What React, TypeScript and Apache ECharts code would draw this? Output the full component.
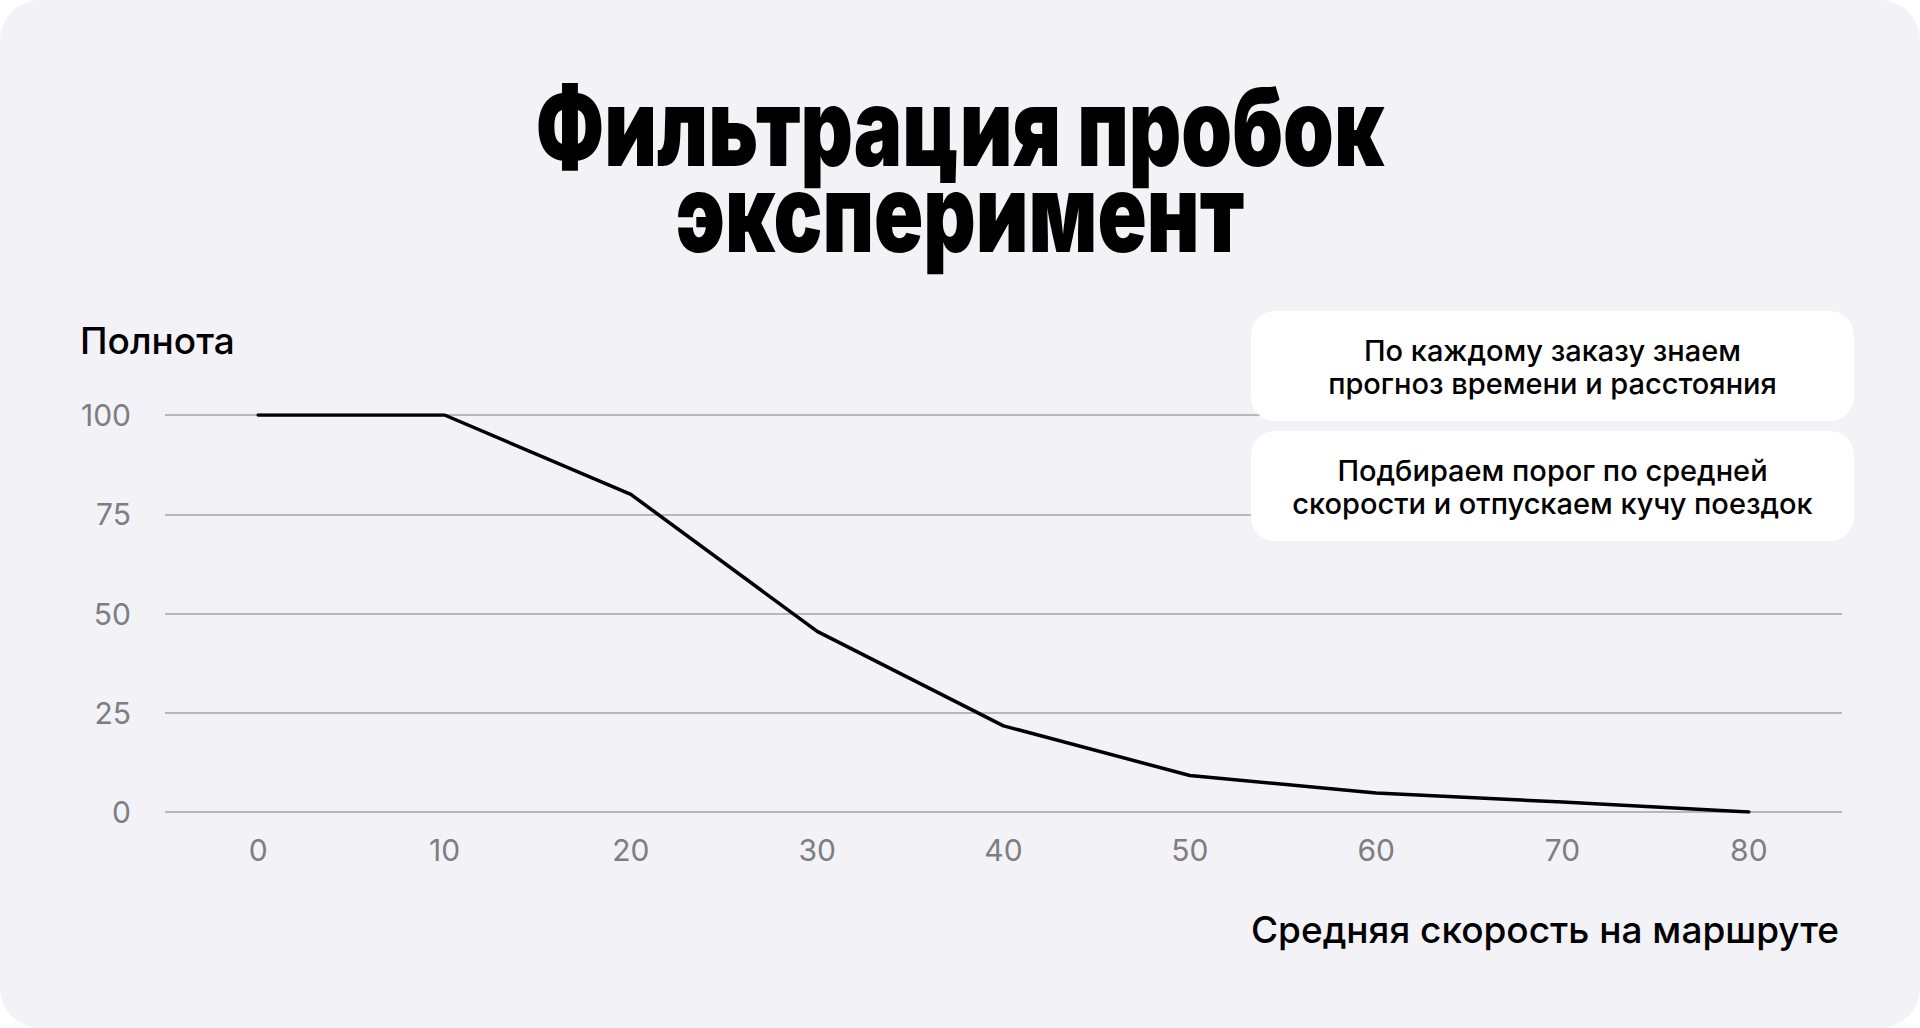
import React, { useEffect, useRef } from "react";
import * as echarts from "echarts";

const speedCategories = ["0", "10", "20", "30", "40", "50", "60", "70", "80"];
const completeness = [100, 100, 80, 45.5, 21.7, 9.2, 4.8, 2.5, 0];
const yMin = 0;
const yMax = 100;
const yInterval = 25;
const titleLines = ["Фильтрация пробок", "эксперимент"];
const yAxisTitle = "Полнота";
const xAxisTitle = "Средняя скорость на маршруте";
const noteBoxes = [
  "По каждому заказу знаем\nпрогноз времени и расстояния",
  "Подбираем порог по средней\nскорости и отпускаем кучу поездок",
];

const TITLE_FONT = "Inter";
const TITLE_SIZE = 108;

function measure(text: string, font: string): number {
  const c = document.createElement("canvas").getContext("2d");
  if (!c) return 1;
  c.font = font;
  return c.measureText(text).width || 1;
}

export default function App() {
  const ref = useRef<HTMLDivElement>(null);
  useEffect(() => {
    if (!ref.current) return;
    const chart = echarts.init(ref.current, undefined, { renderer: "svg" });
    const w1 = measure(titleLines[0], `900 ${TITLE_SIZE}px ${TITLE_FONT}`);
    const sx = 849 / w1;

    const titleStyle = {
      fontFamily: TITLE_FONT,
      fontSize: TITLE_SIZE,
      fontWeight: 900,
      fill: "#000",
      textAlign: "center",
      textVerticalAlign: "middle",
    };

    const boxes = noteBoxes.map((t, i) => ({
      type: "group",
      x: 1251,
      y: 311 + i * 120,
      z: 100,
      children: [
        {
          type: "rect",
          z: 100,
          shape: { x: 0, y: 0, width: 603, height: 110, r: 24 },
          style: { fill: "#ffffff" },
        },
        {
          type: "text",
          z: 101,
          x: 301.5,
          y: 56,
          style: {
            text: t,
            fontFamily: "Inter",
            fontSize: 29,
            fontWeight: 500,
            lineHeight: 33,
            fill: "#000",
            textAlign: "center",
            textVerticalAlign: "middle",
          },
        },
      ],
    }));

    chart.setOption({
      animation: false,
      backgroundColor: "transparent",
      grid: { left: 165, right: 78, top: 415, bottom: 216 },
      xAxis: {
        type: "category",
        data: speedCategories,
        boundaryGap: true,
        axisLine: { show: false },
        axisTick: { show: false },
        axisLabel: {
          color: "#7d7d82",
          fontFamily: "Inter",
          fontSize: 30,
          margin: 23,
        },
      },
      yAxis: {
        type: "value",
        min: yMin,
        max: yMax,
        interval: yInterval,
        axisLine: { show: false },
        axisTick: { show: false },
        splitLine: { lineStyle: { color: "#a3a3a8", width: 1.5 } },
        axisLabel: {
          color: "#7d7d82",
          fontFamily: "Inter",
          fontSize: 30,
          margin: 34,
        },
      },
      series: [
        {
          type: "line",
          data: completeness,
          symbol: "none",
          lineStyle: { color: "#000000", width: 3.5, cap: "round" },
        },
      ],
      graphic: [
        {
          type: "text",
          x: 960,
          y: 126,
          scaleX: sx,
          style: { ...titleStyle, text: titleLines[0] },
        },
        {
          type: "text",
          x: 960,
          y: 212,
          scaleX: sx,
          style: { ...titleStyle, text: titleLines[1] },
        },
        {
          type: "text",
          x: 80,
          y: 340,
          style: {
            text: yAxisTitle,
            fontFamily: "Inter",
            fontSize: 37,
            fontWeight: 500,
            fill: "#000",
            textAlign: "left",
            textVerticalAlign: "middle",
          },
        },
        {
          type: "text",
          x: 1839,
          y: 929,
          style: {
            text: xAxisTitle,
            fontFamily: "Inter",
            fontSize: 37,
            fontWeight: 500,
            fill: "#000",
            textAlign: "right",
            textVerticalAlign: "middle",
          },
        },
        ...boxes,
      ],
    });
    return () => chart.dispose();
  }, []);

  return (
    <div
      style={{
        position: "fixed",
        left: 0,
        top: 0,
        width: 1920,
        height: 1028,
        background: "#f2f2f7",
        borderRadius: 40,
        overflow: "hidden",
      }}
    >
      <div ref={ref} style={{ width: 1920, height: 1028 }} />
    </div>
  );
}
